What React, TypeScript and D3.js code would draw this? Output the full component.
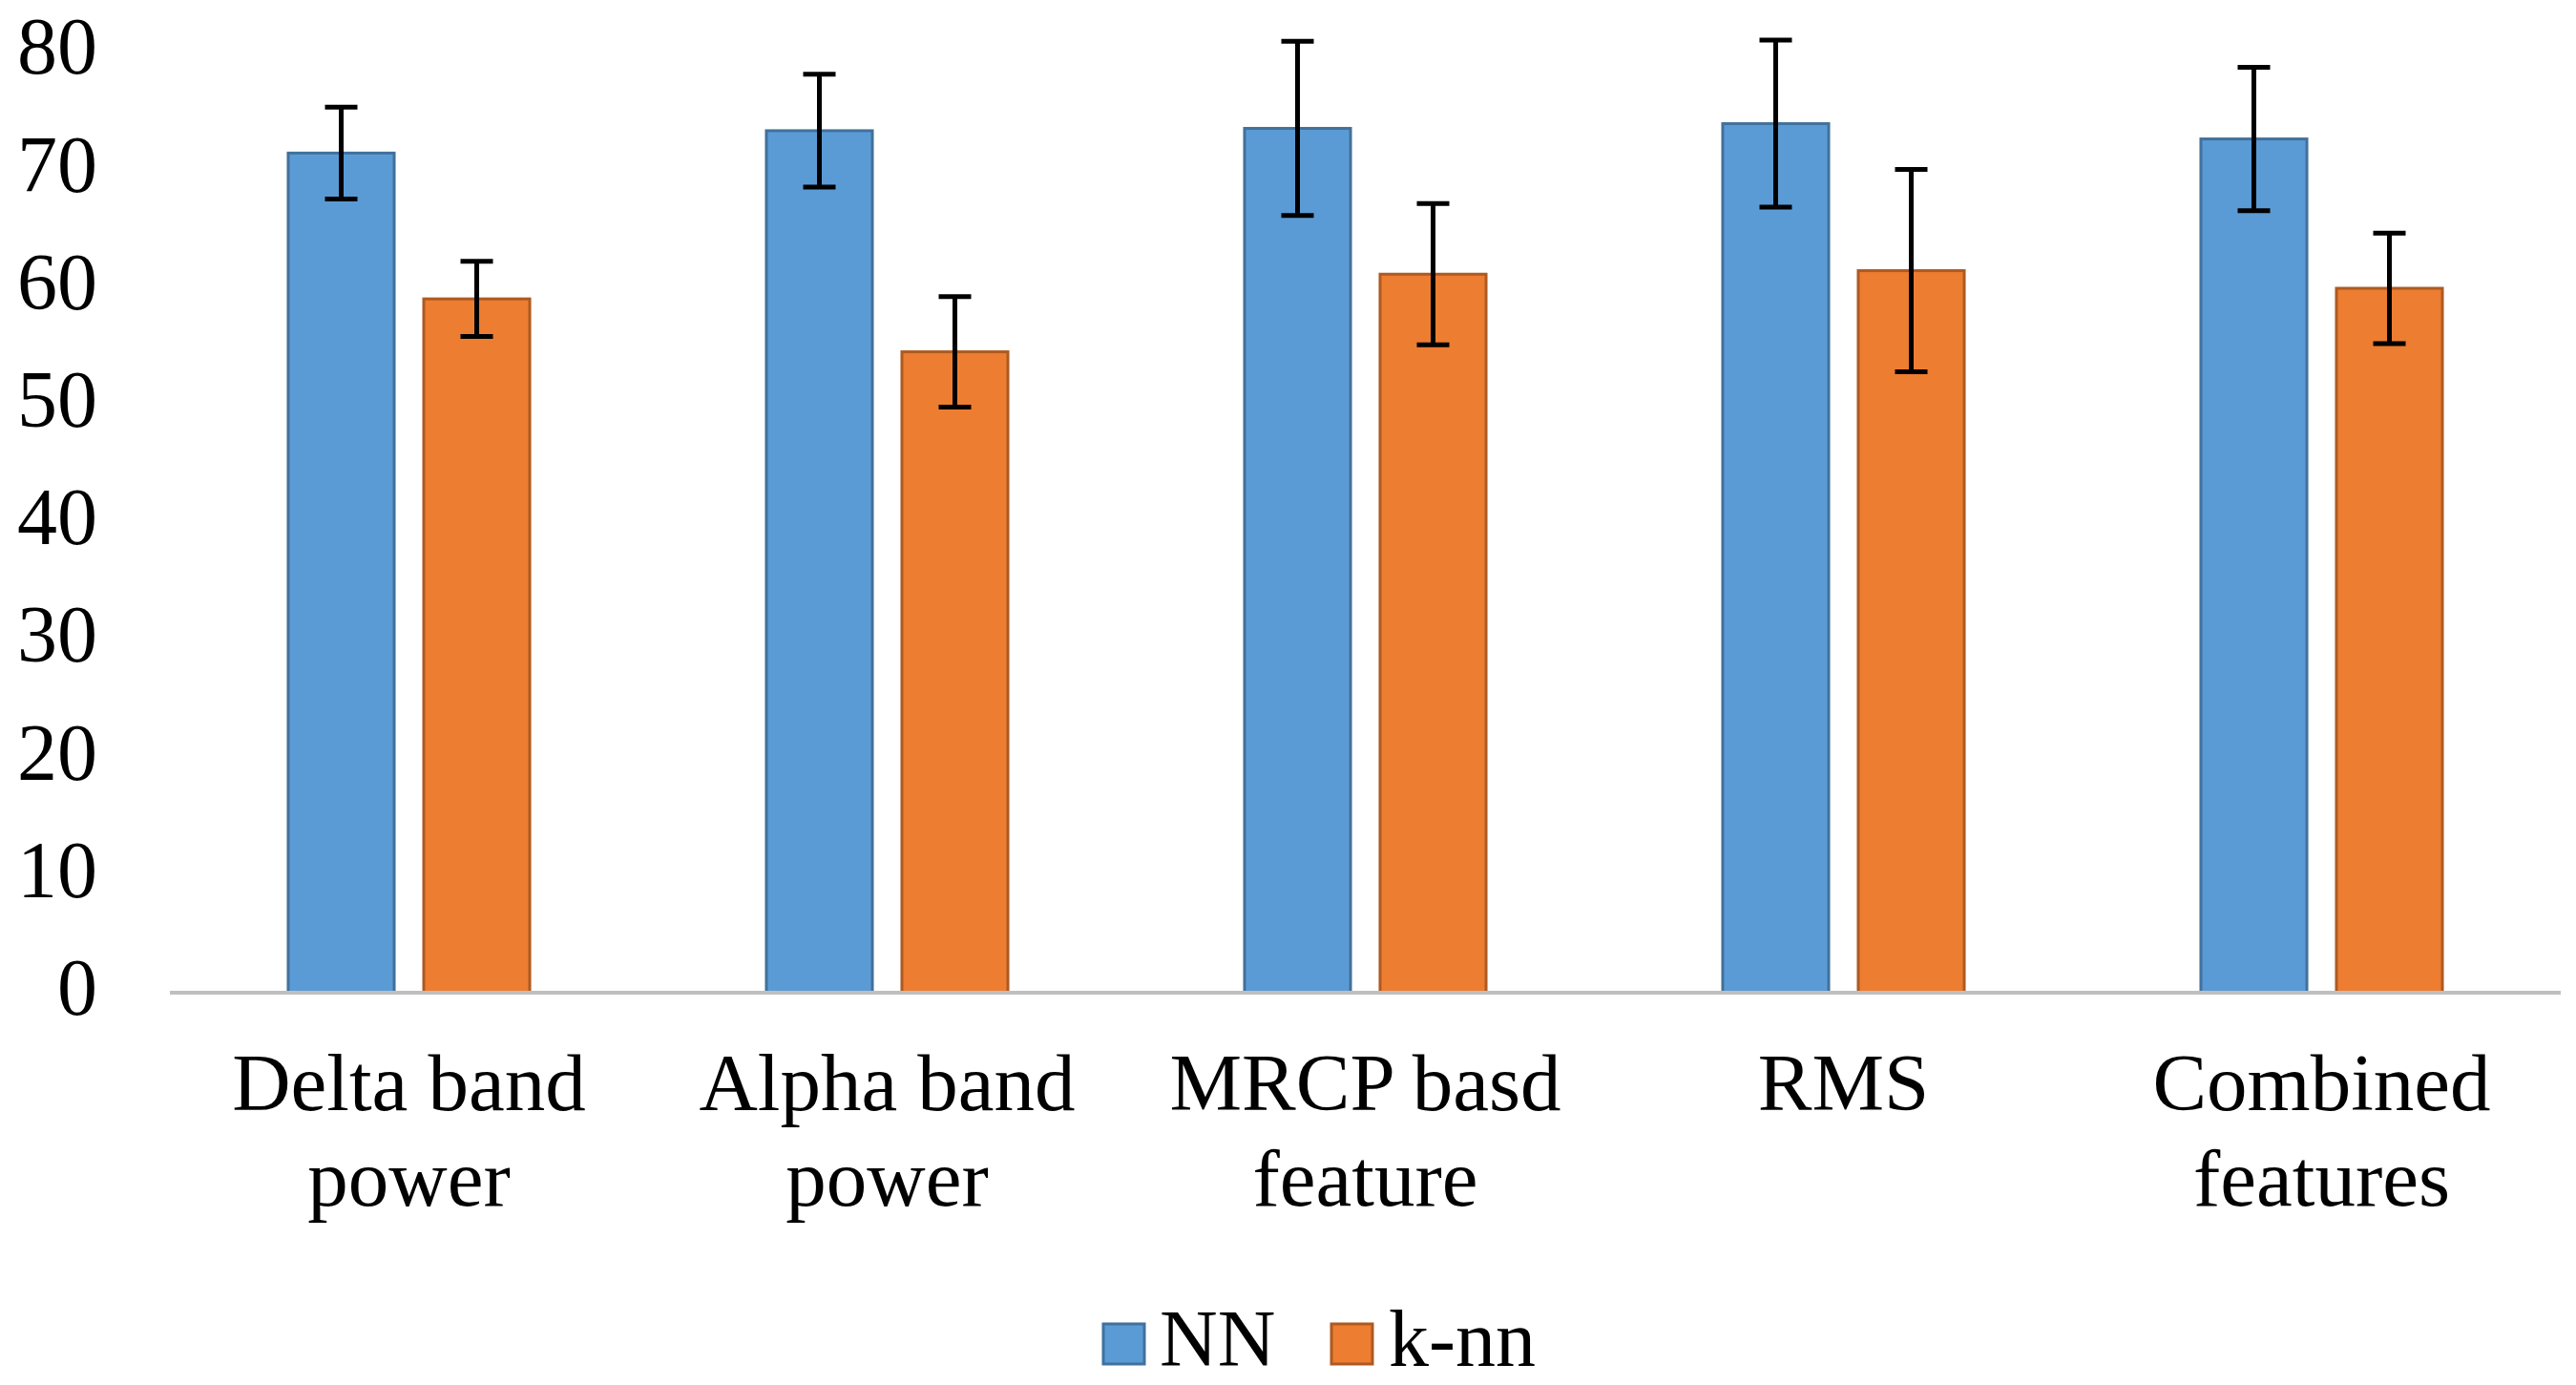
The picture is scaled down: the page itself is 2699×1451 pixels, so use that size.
import * as d3 from 'd3';

const categories = ['Delta band power', 'Alpha band power', 'MRCP basd feature', 'RMS', 'Combined features'];
const labelLines = [['Delta band', 'power'], ['Alpha band', 'power'], ['MRCP basd', 'feature'], ['RMS'], ['Combined', 'features']];
const seriesNames = ['NN', 'k-nn'];
const nnValues = [71.4, 73.3, 73.5, 73.9, 72.6];
const nnErrors = [3.9, 4.8, 7.4, 7.1, 6.1];
const knnValues = [59.0, 54.5, 61.1, 61.4, 59.9];
const knnErrors = [3.2, 4.7, 6.0, 8.6, 4.7];
const yTicks = [0, 10, 20, 30, 40, 50, 60, 70, 80];

const fills = ['#5b9bd5', '#ed7d31'];
const strokes = ['#41719c', '#ae5a21'];
const font = "'Times New Roman', 'Liberation Serif', serif";

export default function App() {
  const width = 2699;
  const height = 1451;

  const y = d3.scaleLinear().domain([0, 80]).range([1040, 54.4]);
  const x0 = d3.scaleBand().domain(categories).range([178, 2683]).padding(0);
  const x1 = d3.scaleBand()
    .domain(seriesNames)
    .range([0, x0.bandwidth()])
    .paddingInner(0.218)
    .paddingOuter(0.873);

  const series = [
    { name: 'NN', values: nnValues, errors: nnErrors },
    { name: 'k-nn', values: knnValues, errors: knnErrors },
  ];

  const legendItems = [
    { name: 'NN', sx: 1156, tx: 1215 },
    { name: 'k-nn', sx: 1395, tx: 1455 },
  ];

  return (
    <svg
      width={width}
      height={height}
      style={{ position: 'fixed', left: 0, top: 0, background: '#fff' }}
    >
      <rect width={width} height={height} fill="#fff" />

      {/* y tick labels */}
      {yTicks.map(t => (
        <text
          key={t}
          x={102}
          y={y(t) + 23}
          textAnchor="end"
          fontFamily={font}
          fontSize={84}
          fill="#000"
        >
          {t}
        </text>
      ))}

      {/* bars */}
      {series.map((s, si) => (
        <g key={s.name}>
          {categories.map((c, i) => {
            const bx = (x0(c) ?? 0) + (x1(s.name) ?? 0);
            const top = y(s.values[i]);
            return (
              <rect
                key={c}
                x={bx}
                y={top}
                width={x1.bandwidth()}
                height={y(0) - top}
                fill={fills[si]}
                stroke={strokes[si]}
                strokeWidth={3}
              />
            );
          })}
        </g>
      ))}

      {/* axis line */}
      <line x1={178} x2={2683} y1={y(0)} y2={y(0)} stroke="#bfbfbf" strokeWidth={4} />

      {/* error bars */}
      {series.map(s => (
        <g key={s.name + '-err'} stroke="#000" strokeWidth={5}>
          {categories.map((c, i) => {
            const cx = (x0(c) ?? 0) + (x1(s.name) ?? 0) + x1.bandwidth() / 2;
            const hi = y(s.values[i] + s.errors[i]);
            const lo = y(s.values[i] - s.errors[i]);
            return (
              <g key={c}>
                <line x1={cx} x2={cx} y1={hi} y2={lo} />
                <line x1={cx - 17} x2={cx + 17} y1={hi} y2={hi} />
                <line x1={cx - 17} x2={cx + 17} y1={lo} y2={lo} />
              </g>
            );
          })}
        </g>
      ))}

      {/* category labels */}
      {categories.map((c, i) => (
        <text
          key={c}
          x={(x0(c) ?? 0) + x0.bandwidth() / 2}
          y={1163}
          textAnchor="middle"
          fontFamily={font}
          fontSize={85}
          fill="#000"
        >
          {labelLines[i].map((line, li) => (
            <tspan key={li} x={(x0(c) ?? 0) + x0.bandwidth() / 2} dy={li === 0 ? 0 : 100}>
              {line}
            </tspan>
          ))}
        </text>
      ))}

      {/* legend */}
      {legendItems.map((l, i) => (
        <g key={l.name}>
          <rect x={l.sx} y={1387} width={43} height={42} fill={fills[i]} stroke={strokes[i]} strokeWidth={3} />
          <text x={l.tx} y={1431} fontFamily={font} fontSize={84} fill="#000">
            {l.name}
          </text>
        </g>
      ))}
    </svg>
  );
}
